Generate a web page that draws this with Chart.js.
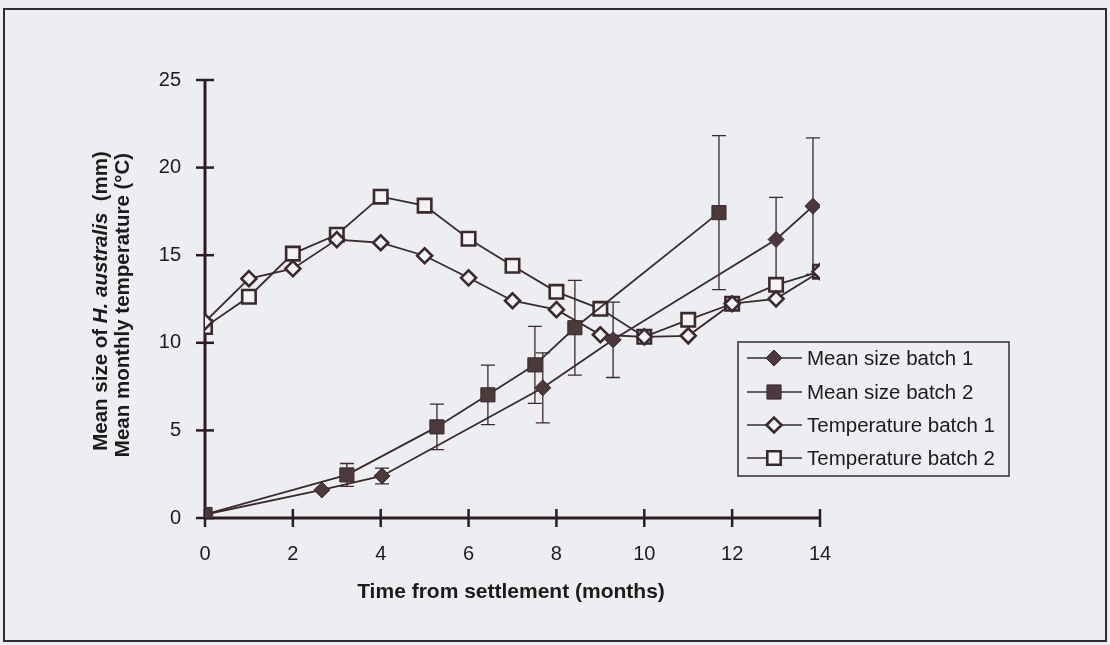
<!DOCTYPE html>
<html><head><meta charset="utf-8">
<script src="https://cdn.jsdelivr.net/npm/chart.js@4.4.0/dist/chart.umd.min.js"></script>
<style>html,body{margin:0;padding:0;background:#eceef1;overflow:hidden}#wrap{width:1110px;height:645px;position:relative}</style>
</head><body><div id="wrap"><canvas id="c" width="1110" height="645"></canvas></div>
<script>
// ---- data ----
const sizeMonths1 = [0, 2.66, 4.03, 7.69, 9.29, 13.0, 13.84];
const sizeMean1   = [0.2, 1.6, 2.4, 7.43, 10.17, 15.9, 17.8];
const sizeErr1    = [0, 0, 0.45, 2.0, 2.15, 2.4, 3.9];
const sizeMonths2 = [0, 3.23, 5.28, 6.44, 7.51, 8.42, 11.7];
const sizeMean2   = [0.2, 2.46, 5.2, 7.03, 8.74, 10.86, 17.43];
const sizeErr2    = [0, 0.65, 1.3, 1.7, 2.2, 2.7, 4.4];
const tempMonths  = [0, 1, 2, 3, 4, 5, 6, 7, 8, 9, 10, 11, 12, 13, 14];
const temp1       = [11.2, 13.66, 14.23, 15.89, 15.71, 14.97, 13.71, 12.4, 11.89, 10.46, 10.34, 10.4, 12.23, 12.51, 14.06];
const temp2       = [10.9, 12.63, 15.09, 16.17, 18.34, 17.83, 15.94, 14.4, 12.91, 11.94, 10.34, 11.31, 12.23, 13.31, 14.06];
const xTicks = [0, 2, 4, 6, 8, 10, 12, 14];
const yTicks = [0, 5, 10, 15, 20, 25];
const seriesNames = ['Mean size batch 1', 'Mean size batch 2', 'Temperature batch 1', 'Temperature batch 2'];
const xTitle = 'Time from settlement (months)';

const INK = '#3a2a2e', FILL = '#4b393c', OPEN = '#f3f3f3';
const FONT = '"Liberation Sans", Arial, sans-serif';

function pts(xs, ys) { return xs.map((x, i) => ({ x: x, y: ys[i] })); }

const styles = [
  { pointStyle: 'rectRot', radius: 8, bg: FILL, bw: 1 },
  { pointStyle: 'rect', radius: 10, bg: FILL, bw: 1 },
  { pointStyle: 'rectRot', radius: 7.5, bg: OPEN, bw: 2.6 },
  { pointStyle: 'rect', radius: 9.5, bg: OPEN, bw: 2.6 }
];

const datasets = [
  { data: pts(sizeMonths1, sizeMean1), err: sizeErr1 },
  { data: pts(sizeMonths2, sizeMean2), err: sizeErr2 },
  { data: pts(tempMonths, temp1) },
  { data: pts(tempMonths, temp2) }
].map((d, i) => Object.assign(d, {
  label: seriesNames[i],
  borderColor: INK, borderWidth: 1.8,
  pointStyle: styles[i].pointStyle, pointRadius: styles[i].radius,
  pointBackgroundColor: styles[i].bg, pointBorderColor: INK,
  pointBorderWidth: styles[i].bw, tension: 0, fill: false
}));

const framePlugin = {
  id: 'frame',
  beforeDraw(chart) {
    const c = chart.ctx;
    c.save();
    c.fillStyle = '#eceef1';
    c.fillRect(0, 0, chart.width, chart.height);
    c.strokeStyle = '#2e2e2e'; c.lineWidth = 2;
    c.strokeRect(4, 9, 1102, 632);
    c.restore();
  }
};

const axesPlugin = {
  id: 'axesCross',
  beforeDatasetsDraw(chart) {
    const c = chart.ctx, xs = chart.scales.x, ys = chart.scales.y;
    const x0 = xs.getPixelForValue(0), x1 = xs.getPixelForValue(14);
    const y0 = ys.getPixelForValue(0), y1 = ys.getPixelForValue(25);
    c.save();
    c.strokeStyle = '#2a1c20';
    c.lineWidth = 3;
    c.beginPath(); c.moveTo(x0, y1); c.lineTo(x0, y0); c.lineTo(x1, y0); c.stroke();
    c.lineWidth = 2.5;
    yTicks.forEach(v => { const y = ys.getPixelForValue(v); c.beginPath(); c.moveTo(x0 - 9, y); c.lineTo(x0 + 9, y); c.stroke(); });
    xTicks.forEach(v => { const x = xs.getPixelForValue(v); c.beginPath(); c.moveTo(x, y0 - 9); c.lineTo(x, y0 + 9); c.stroke(); });
    // error bars
    c.strokeStyle = INK; c.lineWidth = 1.3;
    chart.data.datasets.forEach(ds => {
      if (!ds.err) return;
      ds.data.forEach((p, i) => {
        const e = ds.err[i]; if (!e) return;
        const x = xs.getPixelForValue(p.x);
        const ya = ys.getPixelForValue(p.y + e), yb = ys.getPixelForValue(p.y - e);
        c.beginPath();
        c.moveTo(x, ya); c.lineTo(x, yb);
        c.moveTo(x - 7, ya); c.lineTo(x + 7, ya);
        c.moveTo(x - 7, yb); c.lineTo(x + 7, yb);
        c.stroke();
      });
    });
    c.restore();
  }
};

const textPlugin = {
  id: 'texts',
  afterDraw(chart) {
    const c = chart.ctx, ca = chart.chartArea;
    c.save();
    c.fillStyle = '#1e1a1b';
    // x title
    c.font = 'bold 21px ' + FONT;
    c.textAlign = 'center'; c.textBaseline = 'middle';
    c.fillText(xTitle, 511, 592);
    // y titles (rotated)
    const F = 'bold 20.5px ' + FONT;
    const parts = [['Mean size of ', F], ['H. australis', 'italic ' + F], ['  (mm)', F]];
    let total = 0;
    parts.forEach(p => { c.font = p[1]; total += c.measureText(p[0]).width; });
    c.save();
    c.translate(101, 301); c.rotate(-Math.PI / 2);
    c.textAlign = 'left'; c.textBaseline = 'middle';
    let xx = -total / 2;
    parts.forEach(p => { c.font = p[1]; c.fillText(p[0], xx, 0); xx += c.measureText(p[0]).width; });
    c.restore();
    c.save();
    c.translate(123, 305); c.rotate(-Math.PI / 2);
    c.font = F; c.textAlign = 'center'; c.textBaseline = 'middle';
    c.fillText('Mean monthly temperature (°C)', 0, 0);
    c.restore();
    // legend
    const L = 738, T = 342, R = 1009, B = 476;
    c.fillStyle = '#eceef1'; c.fillRect(L, T, R - L, B - T);
    c.strokeStyle = INK; c.lineWidth = 1.5; c.strokeRect(L, T, R - L, B - T);
    const rows = [358, 392, 425, 458];
    chart.data.datasets.forEach((ds, i) => {
      const y = rows[i];
      c.strokeStyle = INK; c.lineWidth = 1.6;
      c.beginPath(); c.moveTo(747, y); c.lineTo(802, y); c.stroke();
      c.fillStyle = ds.pointBackgroundColor; c.strokeStyle = INK; c.lineWidth = ds.pointBorderWidth;
      Chart.helpers.drawPoint(c, { pointStyle: ds.pointStyle, radius: ds.pointRadius, borderWidth: ds.pointBorderWidth, rotation: 0 }, 774, y);
      c.fillStyle = '#1e1a1b';
      c.font = '20.5px ' + FONT; c.textAlign = 'left'; c.textBaseline = 'middle';
      c.fillText(ds.label, 807, y + 1);
    });
    c.restore();
  }
};

new Chart(document.getElementById('c'), {
  type: 'line',
  data: { datasets: datasets },
  plugins: [framePlugin, axesPlugin, textPlugin],
  options: {
    responsive: false, animation: false, devicePixelRatio: 1,
    layout: { padding: { left: 0, top: 80, right: 290, bottom: 0 } },
    plugins: { legend: { display: false }, tooltip: { enabled: false } },
    scales: {
      x: {
        type: 'linear', min: 0, max: 14,
        afterFit: s => { s.height = 127; },
        afterBuildTicks: s => { s.ticks = xTicks.map(v => ({ value: v })); },
        grid: { display: false }, border: { display: false },
        ticks: { padding: 16, color: '#1e1a1b', font: { family: FONT, size: 20 }, autoSkip: false, maxRotation: 0 }
      },
      y: {
        type: 'linear', min: 0, max: 25,
        afterFit: s => { s.width = 205; },
        afterBuildTicks: s => { s.ticks = yTicks.map(v => ({ value: v })); },
        grid: { display: false }, border: { display: false },
        ticks: { padding: 16, color: '#1e1a1b', font: { family: FONT, size: 20 } }
      }
    }
  }
});
</script></body></html>
